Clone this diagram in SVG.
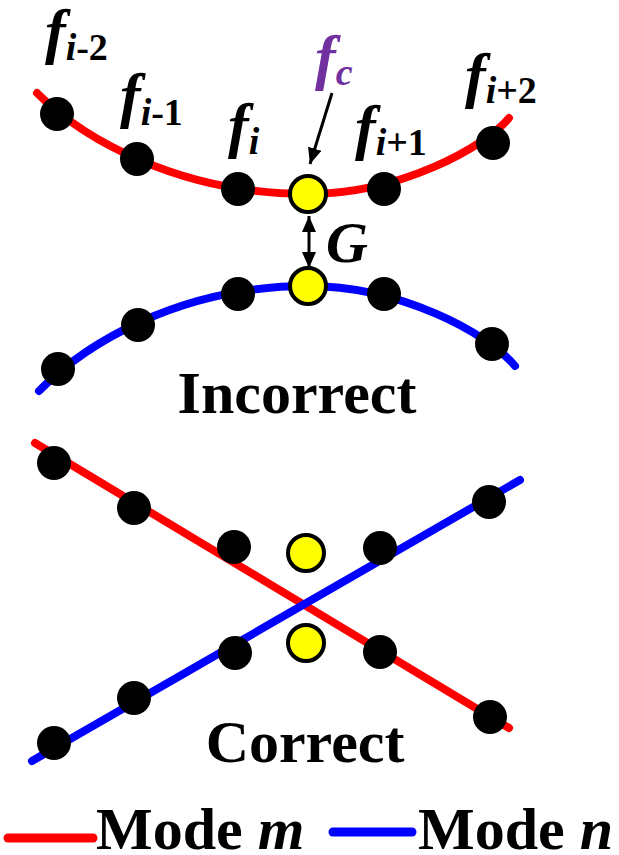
<svg xmlns="http://www.w3.org/2000/svg" width="619" height="855" viewBox="0 0 619 855">
<style>
.red{fill:none;stroke:#FF0000;stroke-width:8;stroke-linecap:round}
.blue{fill:none;stroke:#0000FF;stroke-width:8;stroke-linecap:round}
.dot{fill:#000}
.ydot{fill:#FFFF00;stroke:#000;stroke-width:4}
.arr{stroke:#000;stroke-width:3;fill:none}
.f{font-family:"Liberation Serif","Times New Roman",serif;font-weight:bold;font-style:italic;font-size:62px;fill:#000}
.si{font-size:38px;font-style:italic}
.sr{font-size:38px;font-style:normal}
.big{font-family:"Liberation Serif","Times New Roman",serif;font-weight:bold;font-size:60px;fill:#000}
</style>
<defs>
<marker id="ah" viewBox="0 0 16 14" refX="16" refY="7" markerWidth="16" markerHeight="14" markerUnits="userSpaceOnUse" orient="auto-start-reverse">
<path d="M0,0 L16,7 L0,14 z" fill="#000"/>
</marker>
</defs>

<g id="connectors">
<path id="red-incorrect" class="red" d="M37,93 C82,138 178,194 308,194 C400,194 485,147 509,118"/>
<path id="blue-incorrect" class="blue" d="M39,391 C84,345 178,286 308,286 C400,286 488,333 515,366"/>
<line id="red-correct" class="red" x1="35" y1="443" x2="509" y2="728"/>
<line id="blue-correct" class="blue" x1="32" y1="761" x2="520" y2="480"/>
<line id="fc-arrow" class="arr" x1="332" y1="93" x2="310" y2="164" marker-end="url(#ah)"/>
<line id="g-arrow" class="arr" x1="309" y1="216" x2="309" y2="268" marker-start="url(#ah)" marker-end="url(#ah)"/>
</g>

<g id="incorrect-red-dots">
<g id="r1"><circle class="dot" cx="57" cy="114" r="17"/></g>
<g id="r2"><circle class="dot" cx="137" cy="159" r="17"/></g>
<g id="r3"><circle class="dot" cx="238" cy="189" r="17"/></g>
<g id="r4"><circle class="ydot" cx="308" cy="194" r="18"/></g>
<g id="r5"><circle class="dot" cx="384" cy="189" r="17"/></g>
<g id="r6"><circle class="dot" cx="493" cy="143" r="17"/></g>
</g>
<g id="incorrect-blue-dots">
<g id="b1"><circle class="dot" cx="58" cy="369" r="17"/></g>
<g id="b2"><circle class="dot" cx="138" cy="325" r="17"/></g>
<g id="b3"><circle class="dot" cx="238" cy="294" r="17"/></g>
<g id="b4"><circle class="ydot" cx="308" cy="286" r="18"/></g>
<g id="b5"><circle class="dot" cx="384" cy="294" r="17"/></g>
<g id="b6"><circle class="dot" cx="492" cy="344" r="17"/></g>
</g>
<g id="correct-dots">
<g id="c1"><circle class="dot" cx="54" cy="463" r="17"/></g>
<g id="c2"><circle class="dot" cx="134" cy="508" r="17"/></g>
<g id="c3"><circle class="dot" cx="234" cy="547" r="17"/></g>
<g id="c4"><circle class="ydot" cx="306" cy="553" r="18"/></g>
<g id="c5"><circle class="dot" cx="380" cy="548" r="17"/></g>
<g id="c6"><circle class="dot" cx="489" cy="502" r="17"/></g>
<g id="c7"><circle class="dot" cx="54" cy="743" r="17"/></g>
<g id="c8"><circle class="dot" cx="134" cy="698" r="17"/></g>
<g id="c9"><circle class="dot" cx="235" cy="653" r="17"/></g>
<g id="c10"><circle class="ydot" cx="306" cy="643" r="18"/></g>
<g id="c11"><circle class="dot" cx="380" cy="652" r="17"/></g>
<g id="c12"><circle class="dot" cx="490" cy="717" r="17"/></g>
</g>

<g id="labels">
<text class="f" x="45" y="52">f<tspan class="si" dy="8">i</tspan><tspan class="sr">-2</tspan></text>
<text class="f" x="120" y="116">f<tspan class="si" dy="9">i</tspan><tspan class="sr">-1</tspan></text>
<text class="f" x="228" y="146">f<tspan class="si" dy="8">i</tspan></text>
<text class="f" x="315" y="78" style="fill:#7030A0">f<tspan class="si" dy="7">c</tspan></text>
<text class="f" x="355" y="148">f<tspan class="si" dy="7">i</tspan><tspan class="sr">+1</tspan></text>
<text class="f" x="465" y="96">f<tspan class="si" dy="7">i</tspan><tspan class="sr">+2</tspan></text>
<text class="f" x="326" y="262" style="font-size:58px">G</text>
<text class="big" x="297" y="413" text-anchor="middle">Incorrect</text>
<text class="big" x="305" y="762" text-anchor="middle">Correct</text>
</g>

<g id="legend">
<line class="red" x1="8" y1="838" x2="93" y2="838" style="stroke-width:9"/>
<text class="big" x="96" y="849">Mode <tspan font-style="italic">m</tspan></text>
<line class="blue" x1="333" y1="832" x2="412" y2="832" style="stroke-width:9"/>
<text class="big" x="418" y="849">Mode <tspan font-style="italic">n</tspan></text>
</g>
</svg>
